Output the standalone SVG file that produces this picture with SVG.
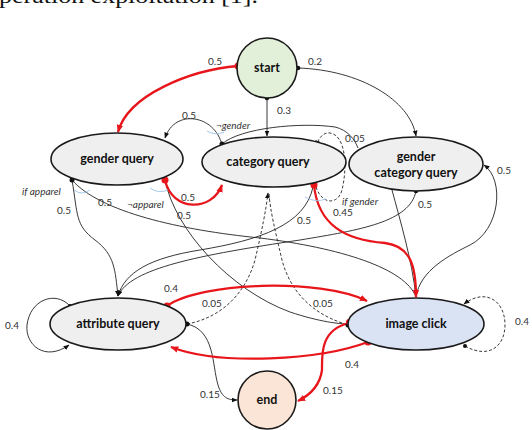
<svg xmlns="http://www.w3.org/2000/svg" width="532" height="430" viewBox="0 0 532 430">
<defs>
<style>
.node{stroke:#1a1a1a;stroke-width:1.6}
.gray{fill:#efefef}
.lbl{font-family:Lato,"Liberation Sans",sans-serif;font-weight:bold;font-size:12.5px;fill:#111;text-anchor:middle}
.el{font-family:Lato,"Liberation Sans",sans-serif;font-size:10px;fill:#333}
.it{font-style:italic}
.e{fill:none;stroke:#222;stroke-width:0.9}
.d{stroke-dasharray:3 2}
.r{fill:none;stroke:#e8161b;stroke-width:2.3}
.bl{fill:none;stroke:#9dc3e6;stroke-width:0.9}
.dot{fill:#111}
.rdot{fill:#e8161b}
.cap{font-family:"Liberation Serif",serif;font-size:20px;fill:#111}
</style>
<marker id="ab" viewBox="0 0 10 10" refX="9" refY="5" markerWidth="6" markerHeight="6" orient="auto" markerUnits="userSpaceOnUse"><path d="M0,1 L10,5 L0,9 z" fill="#111"/></marker>
<marker id="ar" viewBox="0 0 10 10" refX="9" refY="5" markerWidth="8" markerHeight="8" orient="auto" markerUnits="userSpaceOnUse"><path d="M0,1 L10,5 L0,9 z" fill="#e8161b"/></marker>
</defs>
<rect width="532" height="430" fill="#fff"/>
<text class="cap" x="-1" y="3" textLength="259" lengthAdjust="spacingAndGlyphs">peration exploitation [1].</text>

<g id="connectors">
<!-- black edges -->
<path class="e" d="M267,98 L267,136" marker-end="url(#ab)"/>
<path class="e" d="M298,68 C360,70 410,100 416,136" marker-end="url(#ab)"/>
<path class="e" d="M222,145 C215,115 175,108 165,138" marker-end="url(#ab)"/>
<path class="e" d="M222,144 C240,128 300,122 335,127 C348,130 355,140 358,148"/>
<path class="e d" d="M316,187 C322,205 338,205 342,190 C348,165 345,135 330,133 C322,132 318,140 316,146" marker-end="url(#ab)"/>
<path class="e" d="M72,180 C78,215 75,225 95,240 C115,255 115,270 118,296" marker-end="url(#ab)"/>
<path class="e" d="M313,187 C305,225 260,240 200,250 C150,258 125,272 118,296" marker-end="url(#ab)"/>
<path class="e" d="M416,191 C410,222 360,230 300,240 C200,255 130,268 118,296" marker-end="url(#ab)"/>
<path class="e" d="M72,180 C100,212 180,230 260,238 C340,248 405,268 416,297"/>
<path class="e" d="M165,180 C175,230 230,290 290,312 C320,322 340,324 348,324"/>
<path class="e" d="M392,190 C400,220 412,260 416,297"/>
<path class="e" d="M416,297 C420,270 450,255 470,245 C500,230 505,180 484,165" marker-end="url(#ab)"/>
<path class="e d" d="M187,324 C220,318 245,295 255,260 C262,230 266,210 268,193" marker-end="url(#ab)"/>
<path class="e d" d="M342,323 C310,312 290,290 282,260 C275,230 270,210 269,193"/>
<path class="e" d="M187,324 C215,330 212,365 218,385 C222,398 228,400 237,400" marker-end="url(#ab)"/>
<path class="e d" d="M465,346 C490,360 505,345 505,325 C505,300 485,288 464,304" marker-end="url(#ab)"/>
<path class="e" d="M70,306 C55,290 30,300 27,325 C25,345 45,362 69,345" marker-end="url(#ab)"/>
<!-- red edges -->
<path class="r" d="M238,66 C190,70 128,95 118,132" marker-end="url(#ar)"/>
<path class="r" d="M165,180 C172,212 212,212 222,185" marker-end="url(#ar)"/>
<path class="r" d="M314,185 C318,225 345,240 385,243 C410,246 416,265 416,297" marker-end="url(#ar)"/>
<path class="r" d="M167,306 C200,282 320,278 367,301" marker-end="url(#ar)"/>
<path class="r" d="M368,342 C320,360 220,366 171,347" marker-end="url(#ar)"/>
<path class="r" d="M349,323 C320,330 322,355 322,370 C320,385 310,395 298,401" marker-end="url(#ar)"/>
<!-- condition arcs -->
<path class="bl" d="M207,131 Q215,136 224,132"/>
<path class="bl" d="M150,188 Q158,194 168,190"/>
<path class="bl" d="M74,190 Q82,196 90,190"/>
<path class="bl" d="M305,197 Q315,203 326,199"/>
<!-- dots -->
<circle class="dot" cx="267" cy="98" r="2.3"/>
<circle class="dot" cx="298" cy="68" r="2.3"/>
<circle class="dot" cx="222" cy="144" r="2.5"/>
<circle class="dot" cx="72" cy="180" r="2.5"/>
<circle class="dot" cx="416" cy="191" r="2.3"/>
<circle class="dot" cx="187" cy="324" r="2.5"/>
<circle class="dot" cx="348" cy="325" r="2.5"/>
<circle class="dot" cx="465" cy="346" r="2"/>
<circle class="dot" cx="70" cy="306" r="2"/>
<circle class="rdot" cx="238" cy="66" r="3.5"/>
<circle class="rdot" cx="165" cy="180" r="3.5"/>
<circle class="rdot" cx="314" cy="185" r="3.5"/>
<circle class="rdot" cx="167" cy="306" r="3.5"/>
<circle class="rdot" cx="368" cy="342" r="3.5"/>
<circle class="rdot" cx="349" cy="322" r="3"/>
<!-- labels -->
<text class="el" x="208" y="65">0.5</text>
<text class="el" x="308" y="65">0.2</text>
<text class="el" x="277" y="114">0.3</text>
<text class="el" x="182" y="119">0.5</text>
<text class="el it" x="216" y="129">¬gender</text>
<text class="el" x="345" y="142">0.05</text>
<text class="el it" x="22" y="195">if apparel</text>
<text class="el" x="57" y="214">0.5</text>
<text class="el" x="98" y="206">0.5</text>
<text class="el it" x="127" y="208">¬apparel</text>
<text class="el" x="181" y="201">0.5</text>
<text class="el" x="177" y="219">0.5</text>
<text class="el" x="297" y="224">0.5</text>
<text class="el" x="333" y="216">0.45</text>
<text class="el it" x="342" y="205">if gender</text>
<text class="el" x="418" y="208">0.5</text>
<text class="el" x="497" y="174">0.5</text>
<text class="el" x="164" y="292">0.4</text>
<text class="el" x="202" y="307">0.05</text>
<text class="el" x="313" y="307">0.05</text>
<text class="el" x="5" y="329">0.4</text>
<text class="el" x="515" y="325">0.4</text>
<text class="el" x="345" y="368">0.4</text>
<text class="el" x="200" y="398">0.15</text>
<text class="el" x="323" y="394">0.15</text>
</g>

<g id="start"><circle class="node" cx="267" cy="68" r="30" fill="#e2efd9"/><text class="lbl" x="267" y="72">start</text></g>
<g id="gender_query"><ellipse class="node gray" cx="117" cy="159" rx="66" ry="26"/><text class="lbl" x="117" y="163">gender query</text></g>
<g id="category_query"><ellipse class="node gray" cx="274" cy="162" rx="72" ry="25"/><text class="lbl" x="268" y="166">category query</text></g>
<g id="gender_category_query"><ellipse class="node gray" cx="416" cy="164" rx="67" ry="27"/><text class="lbl" x="416" y="161">gender</text><text class="lbl" x="416" y="177">category query</text></g>
<g id="attribute_query"><ellipse class="node gray" cx="118" cy="324" rx="68" ry="26"/><text class="lbl" x="118" y="328">attribute query</text></g>
<g id="image_click"><ellipse class="node" cx="416" cy="324" rx="68" ry="26" fill="#dae3f3"/><text class="lbl" x="416" y="328">image click</text></g>
<g id="end"><circle class="node" cx="267" cy="400" r="29" fill="#fbe5d6"/><text class="lbl" x="267" y="404">end</text></g>
</svg>
